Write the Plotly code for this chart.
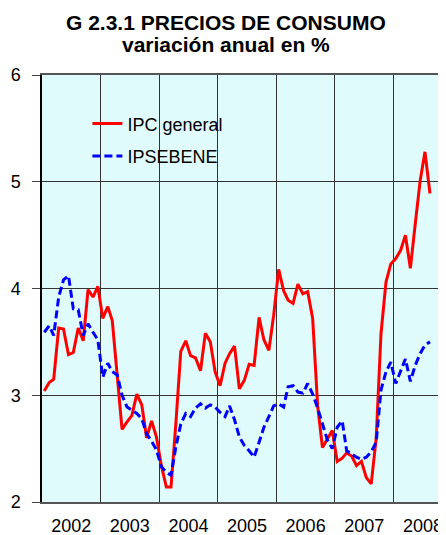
import pandas as pd
import plotly.graph_objects as go

# Monthly annual rates, Jan 2002 - Aug 2008
ipc_general = [
    3.04, 3.12, 3.15, 3.63, 3.62, 3.38, 3.40, 3.63, 3.51, 3.99, 3.92, 4.02,  # 2002
    3.72, 3.83, 3.70, 3.15, 2.68, 2.75, 2.81, 3.01, 2.91, 2.60, 2.76, 2.61,  # 2003
    2.34, 2.14, 2.14, 2.75, 3.41, 3.51, 3.37, 3.35, 3.23, 3.58, 3.50, 3.22,  # 2004
    3.09, 3.30, 3.39, 3.46, 3.06, 3.14, 3.29, 3.28, 3.73, 3.52, 3.42, 3.75,  # 2005
    4.18, 3.98, 3.89, 3.86, 4.04, 3.95, 3.97, 3.72, 2.90, 2.51, 2.59, 2.67,  # 2006
    2.38, 2.41, 2.46, 2.43, 2.34, 2.38, 2.23, 2.17, 2.60, 3.58, 4.06, 4.23,  # 2007
    4.28, 4.36, 4.50, 4.19, 4.60, 5.01, 5.28, 4.89,                          # 2008
]
ipsebene = [
    3.59, 3.65, 3.56, 3.92, 4.08, 4.12, 3.81, 3.80, 3.56, 3.67, 3.59, 3.52,  # 2002
    3.17, 3.30, 3.22, 3.19, 3.00, 2.89, 2.86, 2.83, 2.78, 2.64, 2.57, 2.49,  # 2003
    2.33, 2.28, 2.25, 2.52, 2.73, 2.83, 2.80, 2.88, 2.92, 2.88, 2.91, 2.89,  # 2004
    2.84, 2.80, 2.90, 2.77, 2.61, 2.53, 2.48, 2.42, 2.56, 2.70, 2.80, 2.90,  # 2005
    2.92, 2.89, 3.08, 3.09, 3.03, 3.02, 3.11, 3.01, 2.88, 2.72, 2.58, 2.50,  # 2006
    2.70, 2.76, 2.48, 2.45, 2.42, 2.40, 2.42, 2.47, 2.56, 3.05, 3.22, 3.31,  # 2007
    3.11, 3.23, 3.34, 3.13, 3.28, 3.39, 3.47, 3.50,                          # 2008
]
series_names = ["IPC general", "IPSEBENE"]
year_labels = ["2002", "2003", "2004", "2005", "2006", "2007", "2008"]
title_line1 = "G 2.3.1 PRECIOS DE CONSUMO"
title_line2 = "variación anual en %"
y_ticks = [2, 3, 4, 5, 6]

months = pd.date_range("2002-01-01", periods=len(ipc_general), freq="MS") + pd.Timedelta(days=14)
year_mid = [pd.Timestamp(int(y), 7, 2) for y in year_labels]

FONT = "Liberation Sans, Arial, sans-serif"

# page has an 8px body margin; figure sized to fill the rest of the window
W, H = 438, 527
ML, MT, MB = 34, 67, 33
PW, PH = W - ML, H - MT - MB

def px_x(p):  # page x -> paper x
    return (p - 8 - ML) / PW

def px_y(p):  # page y -> paper y
    return 1 - (p - 8 - MT) / PH

fig = go.Figure()
fig.add_trace(go.Scatter(x=months, y=ipc_general, mode="lines", name=series_names[0],
                         legendgroup="a", line=dict(color="#FF0000", width=3)))
fig.add_trace(go.Scatter(x=months, y=ipsebene, mode="lines", name=series_names[1],
                         legendgroup="b", line=dict(color="#0000FF", width=3, dash="8px,4px")))

fig.update_layout(
    width=W, height=H,
    margin=dict(l=ML, r=0, t=MT, b=MB, autoexpand=False),
    paper_bgcolor="white",
    plot_bgcolor="#E0FBFB",
    font=dict(family=FONT, size=18, color="black"),
    showlegend=True,
    legend=dict(x=px_x(87.4), y=px_y(105.4), xanchor="left", yanchor="top",
                bgcolor="rgba(0,0,0,0)", borderwidth=0,
                font=dict(size=18), tracegroupgap=6, traceorder="grouped"),
    annotations=[
        dict(text="<b>%s</b>" % title_line1, x=px_x(225.5), y=px_y(22.5),
             xref="paper", yref="paper", xanchor="center", yanchor="middle",
             showarrow=False, font=dict(size=21, family=FONT)),
        dict(text="<b>%s</b>" % title_line2, x=px_x(226), y=px_y(44.5),
             xref="paper", yref="paper", xanchor="center", yanchor="middle",
             showarrow=False, font=dict(size=21, family=FONT)),
    ],
)

fig.update_xaxes(
    type="date",
    range=["2002-01-01", "2008-11-23"],
    tickmode="array", tickvals=year_mid, ticktext=year_labels,
    showgrid=False,
    minor=dict(dtick="M12", tick0="2002-01-01", showgrid=True,
               gridcolor="#333333", gridwidth=1, ticks=""),
    ticks="", showline=True, mirror=True, linecolor="#555555", linewidth=1.5,
    tickfont=dict(size=18), zeroline=False, ticklabelstandoff=7,
)
fig.update_yaxes(
    range=[2, 6], tickvals=y_ticks,
    showgrid=True, gridcolor="#333333", gridwidth=1,
    ticks="outside", ticklen=8, tickcolor="#444444", tickwidth=1,
    showline=True, mirror=False, linecolor="black", linewidth=1.5,
    tickfont=dict(size=18), zeroline=False, ticklabelstandoff=8,
)

fig.write_html("out.html")
